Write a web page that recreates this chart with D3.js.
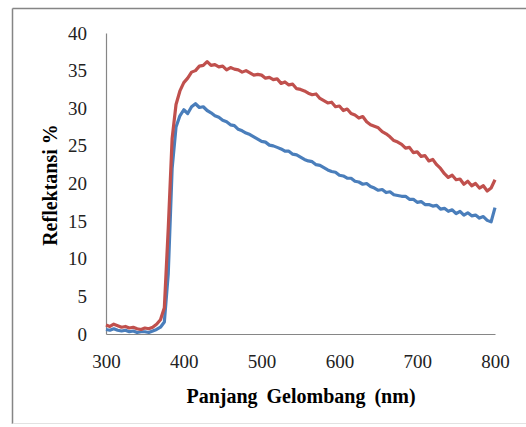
<!DOCTYPE html>
<html>
<head>
<style>
body { margin: 0; background: #fff; }
svg { display: block; }
text { font-family: "Liberation Serif", "Times New Roman", serif; fill: #000; }
</style>
</head>
<body>
<svg id="chart" width="526" height="427"></svg>
<script src="https://d3js.org/d3.v7.min.js"></script>
<script>
    // wavelength in nm, one reading every 5 nm
    const wavelengths = d3.range(300, 801, 5);

    const red_values = [1.2, 1.0, 1.3, 1.1, 0.9, 1.0, 0.8, 0.9, 0.7, 0.6,
        0.8, 0.7, 0.9, 1.3, 1.9, 3.5, 14, 26, 30.5, 32.3,
        33.4, 34.0, 34.8, 35.0, 35.6, 35.7, 36.2, 35.7, 35.8, 35.5,
        35.6, 35.1, 35.4, 35.2, 35.1, 34.8, 35.0, 34.7, 34.4, 34.5,
        34.4, 34.0, 34.1, 33.8, 33.9, 33.3, 33.5, 33.1, 33.2, 32.6,
        32.5, 32.3, 32.0, 31.8, 31.9, 31.3, 31.0, 30.7, 30.8, 30.2,
        30.3, 29.7, 29.9, 29.3, 29.1, 28.7, 28.9, 28.2, 27.8, 27.6,
        27.4, 26.9, 26.6, 26.2, 25.7, 25.5, 25.2, 24.7, 24.8, 24.1,
        24.2, 23.6, 23.7, 23.0, 23.2, 22.5, 22.0, 21.3, 20.8, 21.1,
        20.5, 20.6, 19.9, 20.3, 19.7, 20.0, 19.4, 19.7, 19.0, 19.4, 20.5];

    const blue_values = [0.6, 0.5, 0.7, 0.5, 0.4, 0.5, 0.3, 0.4, 0.2, 0.3,
        0.3, 0.2, 0.4, 0.6, 0.9, 1.6, 8, 22, 27.5, 29.0,
        29.8, 29.3, 30.2, 30.6, 30.1, 30.2, 29.7, 29.4, 29.0, 28.8,
        28.4, 28.2, 27.8, 27.7, 27.2, 27.0, 26.7, 26.5, 26.2, 25.9,
        25.6, 25.5, 25.1, 25.0, 24.8, 24.6, 24.3, 24.3, 23.9, 23.8,
        23.5, 23.2, 23.0, 22.9, 22.5, 22.4, 22.1, 21.8, 21.6, 21.5,
        21.1, 21.0, 20.7, 20.7, 20.3, 20.2, 19.9, 20.0, 19.6, 19.4,
        19.1, 19.2, 18.8, 18.9, 18.5, 18.4, 18.3, 18.3, 17.9, 17.9,
        17.5, 17.6, 17.2, 17.2, 17.0, 17.1, 16.6, 16.7, 16.3, 16.5,
        16.0, 16.3, 15.8, 16.1, 15.7, 15.8, 15.4, 15.6, 15.1, 14.9, 16.8];

    const x_ticks = [300, 400, 500, 600, 700, 800];
    const y_ticks = [0, 5, 10, 15, 20, 25, 30, 35, 40];

    const svg = d3.select("#chart");

    // outer frame (top and left dark, bottom faint)
    svg.append("line").attr("x1", 12.5).attr("y1", 8.5).attr("x2", 526).attr("y2", 8.5)
        .style("stroke", "#858585").style("stroke-width", 1.5);
    svg.append("line").attr("x1", 12.5).attr("y1", 8.5).attr("x2", 12.5).attr("y2", 424)
        .style("stroke", "#858585").style("stroke-width", 1.5);
    svg.append("line").attr("x1", 12.5).attr("y1", 423.5).attr("x2", 526).attr("y2", 423.5)
        .style("stroke", "#e2e2e2").style("stroke-width", 1);

    const x = d3.scaleLinear().domain([300, 800]).range([106, 495]);
    const y = d3.scaleLinear().domain([0, 40]).range([334, 33]);

    const xAxis = svg.append("g")
        .attr("transform", "translate(0,334)")
        .call(d3.axisBottom(x).tickValues(x_ticks).tickSize(0).tickPadding(10))
        .attr("font-size", 19);
    xAxis.select(".domain").style("stroke", "#868686").style("stroke-width", 1.2);
    xAxis.selectAll("text")
        .attr("dy", "0.71em")
        .attr("y", 21)
        .style("fill", "#222");

    const yAxis = svg.append("g")
        .attr("transform", "translate(106,0)")
        .call(d3.axisLeft(y).tickValues(y_ticks).tickSize(0).tickPadding(19))
        .attr("font-size", 19);
    yAxis.select(".domain").style("stroke", "#868686").style("stroke-width", 1.2);
    yAxis.selectAll("text")
        .style("fill", "#222");

    const line = d3.line()
        .x((d, i) => x(wavelengths[i]))
        .y(d => y(d));

    svg.append("path")
        .datum(blue_values)
        .attr("d", line)
        .style("fill", "none")
        .style("stroke", "#4a7ebb")
        .style("stroke-width", 3.2)
        .style("stroke-linejoin", "round");

    svg.append("path")
        .datum(red_values)
        .attr("d", line)
        .style("fill", "none")
        .style("stroke", "#c0504d")
        .style("stroke-width", 3.2)
        .style("stroke-linejoin", "round");

    svg.append("text")
        .attr("x", 301)
        .attr("y", 403)
        .attr("text-anchor", "middle")
        .style("font-size", "20px")
        .style("font-weight", "bold")
        .style("word-spacing", "4px")
        .text("Panjang Gelombang (nm)");

    svg.append("text")
        .attr("transform", "translate(57,185) rotate(-90)")
        .attr("text-anchor", "middle")
        .style("font-size", "20px")
        .style("font-weight", "bold")
        .text("Reflektansi %");
</script>
</body>
</html>
